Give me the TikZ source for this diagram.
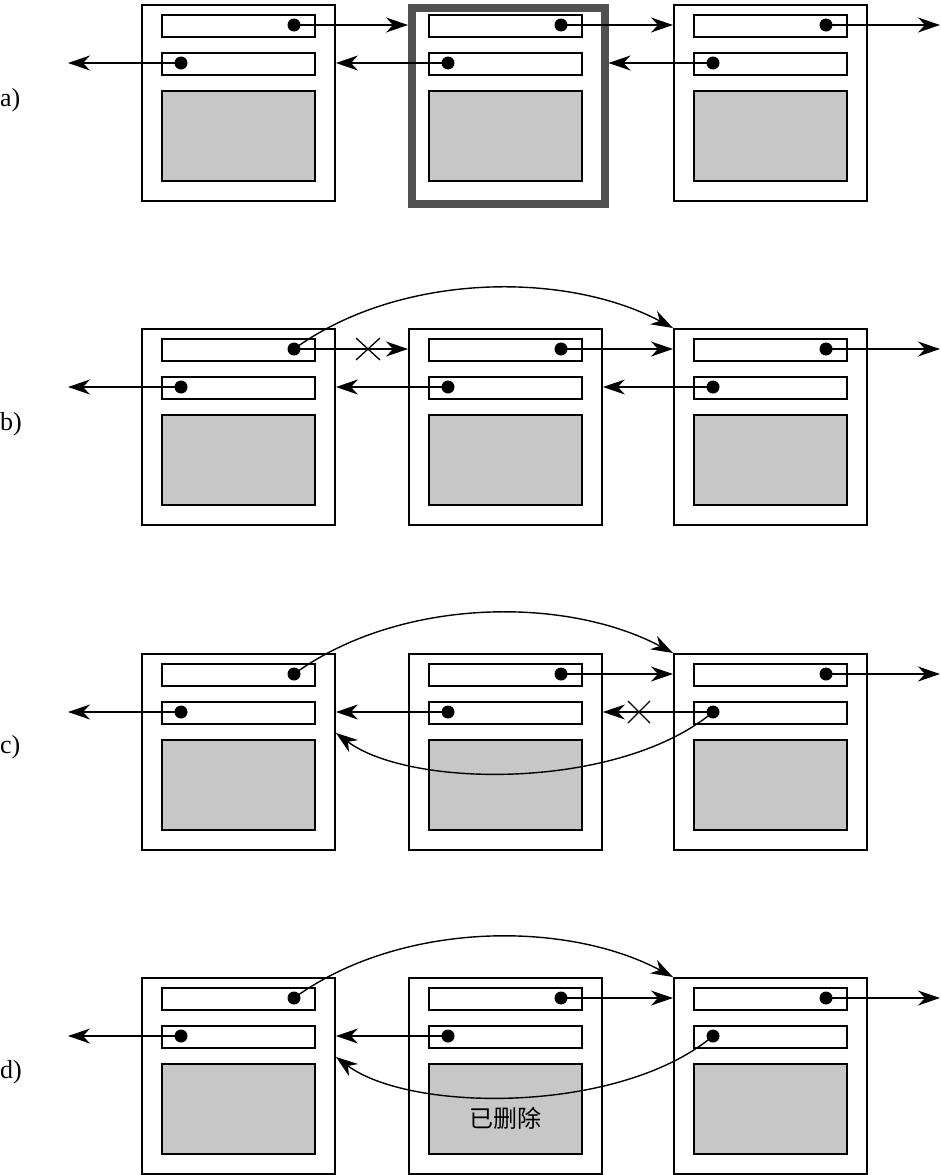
\documentclass[tikz,border=0pt]{standalone}
\usepackage{fontspec}
\setmainfont{Liberation Serif}
\newfontfamily\cjk{Noto Sans CJK SC}
\usetikzlibrary{arrows.meta,calc}
\definecolor{cellgray}{RGB}{199,199,199}
\definecolor{framegray}{RGB}{80,80,80}
\tikzset{
  outerbox/.style={draw=black, line width=1.9pt, minimum width=193pt, minimum height=196pt, inner sep=0pt, anchor=north west},
  selbox/.style={outerbox, draw=framegray, line width=7.5pt},
  field/.style={draw=black, line width=1.9pt, fill=white, minimum width=153pt, minimum height=22pt, inner sep=0pt, anchor=north west},
  datafield/.style={draw=black, line width=1.9pt, fill=cellgray, minimum width=153pt, minimum height=90pt, inner sep=0pt, anchor=north west},
  dot/.style={circle, fill=black, minimum size=13pt, inner sep=0pt},
  arr/.style={line width=1.4pt, -{Stealth[length=22pt, width=15pt, inset=7pt]}},
  xmark/.style={line width=1.3pt},
  lbl/.style={font=\fontsize{26pt}{28pt}\selectfont, anchor=west, inner sep=0pt},
}
% cell: name, x, y-top, box style
\newcommand\mycell[4]{%
  \node[#4] (#1) at (#2,#3) {};
  \node[field] (#1fa) at ($(#2,#3)+(20,10)$) {};
  \node[field] (#1fb) at ($(#2,#3)+(20,48)$) {};
  \node[datafield] (#1g) at ($(#2,#3)+(20,86)$) {};
  \node[dot] (#1da) at ($(#2,#3)+(153,21)$) {};
  \node[dot] (#1db) at ($(#2,#3)+(40,59)$) {};
}
\begin{document}
\begin{tikzpicture}[x=1pt,y=-1pt]
\useasboundingbox (0,0) rectangle (941,1175);

% ---------- row a ----------
\mycell{aA}{141}{4}{outerbox}
\mycell{aB}{408}{4}{selbox}
\mycell{aC}{673}{4}{outerbox}
\node[lbl] (la) at (0,100) {a)};
\coordinate (aR) at (940,25);
\coordinate (aL) at (68,63);
\draw[arr] (aAda.center) -- (aAda.center -| aB.west);
\draw[arr] (aBda.center) -- (aBda.center -| aC.west);
\draw[arr] (aCda.center) -- (aR);
\draw[arr] (aAdb.center) -- (aL);
\draw[arr] (aBdb.center) -- (aBdb.center -| aA.east);
\draw[arr] (aCdb.center) -- (aCdb.center -| aB.east);

% ---------- row b ----------
\mycell{bA}{141}{328}{outerbox}
\mycell{bB}{408}{328}{outerbox}
\mycell{bC}{673}{328}{outerbox}
\node[lbl] (lb) at (0,424) {b)};
\coordinate (bR) at (940,349);
\coordinate (bL) at (68,387);
\draw[arr] (bAda.center) -- (bAda.center -| bB.west);
\draw[arr] (bBda.center) -- (bBda.center -| bC.west);
\draw[arr] (bCda.center) -- (bR);
\draw[arr] (bAdb.center) -- (bL);
\draw[arr] (bBdb.center) -- (bBdb.center -| bA.east);
\draw[arr] (bCdb.center) -- (bCdb.center -| bB.east);
\draw[arr] (bAda.center) .. controls +(106,-77) and +(-107,-57) .. (bC.north west);
\coordinate (bX) at (368,349);
\draw[xmark] ($(bX)+(-12,-11)$) -- ($(bX)+(12,11)$);
\draw[xmark] ($(bX)+(-12,11)$) -- ($(bX)+(12,-11)$);

% ---------- row c ----------
\mycell{cA}{141}{653}{outerbox}
\mycell{cB}{408}{653}{outerbox}
\mycell{cC}{673}{653}{outerbox}
\node[lbl] (lc) at (0,747) {c)};
\coordinate (cR) at (940,674);
\coordinate (cL) at (68,712);
\coordinate (cT) at ($(cAfb.south -| cA.east)+(0,8)$);
\draw[arr] (cBda.center) -- (cBda.center -| cC.west);
\draw[arr] (cCda.center) -- (cR);
\draw[arr] (cAdb.center) -- (cL);
\draw[arr] (cBdb.center) -- (cBdb.center -| cA.east);
\draw[arr] (cCdb.center) -- (cCdb.center -| cB.east);
\draw[arr] (cAda.center) .. controls +(106,-77) and +(-107,-57) .. (cC.north west);
\draw[arr] (cCdb.center) .. controls +(-93,78) and +(75,56) .. (cT);
\coordinate (cX) at (639,712);
\draw[xmark] ($(cX)+(-11,-11)$) -- ($(cX)+(11,11)$);
\draw[xmark] ($(cX)+(-11,11)$) -- ($(cX)+(11,-11)$);

% ---------- row d ----------
\mycell{dA}{141}{977}{outerbox}
\mycell{dB}{408}{977}{outerbox}
\mycell{dC}{673}{977}{outerbox}
\node[lbl] (ld) at (0,1072) {d)};
\coordinate (dR) at (940,998);
\coordinate (dL) at (68,1036);
\coordinate (dT) at ($(dAfb.south -| dA.east)+(0,8)$);
\draw[arr] (dBda.center) -- (dBda.center -| dC.west);
\draw[arr] (dCda.center) -- (dR);
\draw[arr] (dAdb.center) -- (dL);
\draw[arr] (dBdb.center) -- (dBdb.center -| dA.east);
\draw[arr] (dAda.center) .. controls +(106,-77) and +(-107,-57) .. (dC.north west);
\draw[arr] (dCdb.center) .. controls +(-93,78) and +(75,56) .. (dT);
\node[font=\cjk\fontsize{24pt}{26pt}\selectfont, inner sep=0pt] (del) at ($(dBg.center)+(0,9)$) {已删除};
\end{tikzpicture}
\end{document}
